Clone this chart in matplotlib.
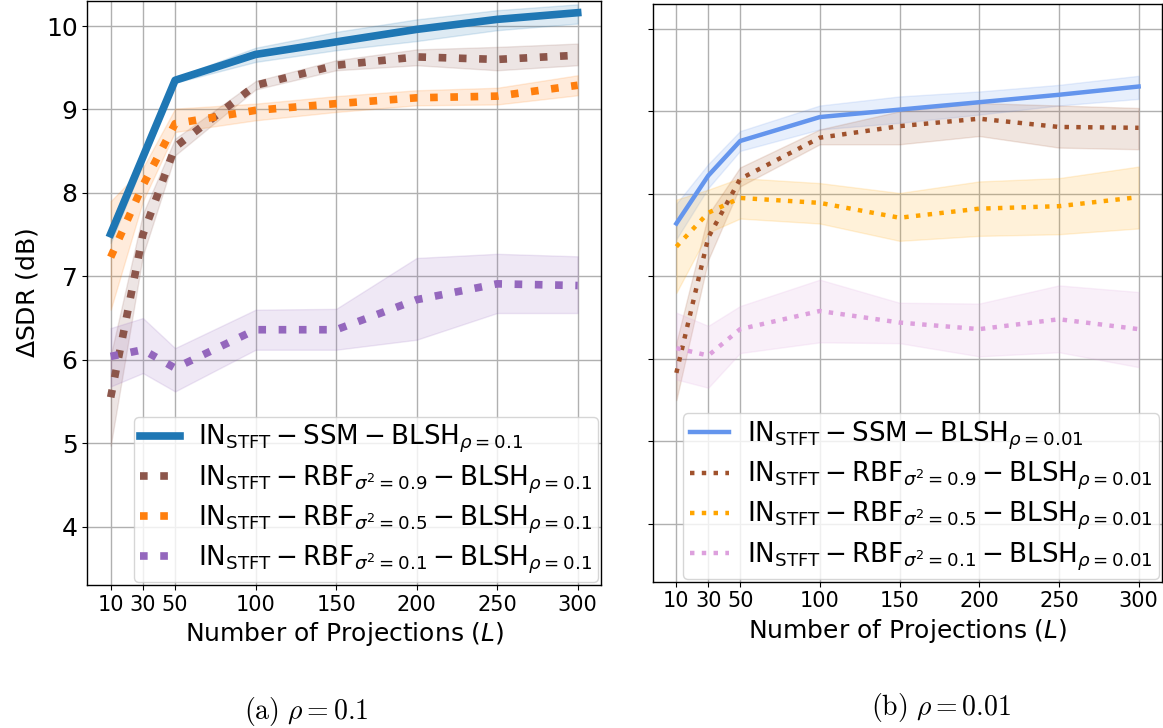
import matplotlib
matplotlib.use("Agg")
import matplotlib.pyplot as plt

# Number of projections L
L = [10, 30, 50, 100, 150, 200, 250, 300]
xtick_labels = ["10", "30", "50", "100", "150", "200", "250", "300"]

# ---- rho = 0.1 ----
ssm_a = [7.51, 8.43, 9.35, 9.66, 9.81, 9.96, 10.08, 10.16]
ssm_a_lo = [7.40, 8.35, 9.32, 9.57, 9.71, 9.82, 9.95, 10.03]
ssm_a_hi = [7.62, 8.52, 9.38, 9.74, 9.93, 10.08, 10.19, 10.26]

rbf09_a = [5.55, 7.50, 8.55, 9.29, 9.53, 9.63, 9.60, 9.65]
rbf09_a_lo = [4.97, 7.25, 8.45, 9.24, 9.47, 9.53, 9.47, 9.53]
rbf09_a_hi = [6.05, 7.75, 8.65, 9.34, 9.59, 9.72, 9.75, 9.79]

rbf05_a = [7.23, 8.09, 8.83, 8.99, 9.07, 9.14, 9.16, 9.29]
rbf05_a_lo = [6.60, 7.90, 8.73, 8.87, 8.97, 9.05, 9.06, 9.17]
rbf05_a_hi = [7.90, 8.30, 9.01, 9.07, 9.16, 9.23, 9.26, 9.41]

rbf01_a = [6.04, 6.12, 5.90, 6.36, 6.36, 6.72, 6.91, 6.89]
rbf01_a_lo = [5.68, 5.84, 5.62, 6.12, 6.12, 6.24, 6.56, 6.56]
rbf01_a_hi = [6.38, 6.50, 6.14, 6.60, 6.61, 7.22, 7.27, 7.24]

# ---- rho = 0.01 ----
ssm_b = [7.64, 8.22, 8.64, 8.93, 9.02, 9.11, 9.20, 9.30]
ssm_b_lo = [7.45, 8.07, 8.52, 8.78, 8.86, 8.96, 9.07, 9.15]
ssm_b_hi = [7.88, 8.36, 8.76, 9.07, 9.18, 9.24, 9.32, 9.43]

rbf09_b = [5.83, 7.47, 8.18, 8.68, 8.82, 8.91, 8.81, 8.80]
rbf09_b_lo = [5.50, 7.20, 8.09, 8.60, 8.60, 8.70, 8.56, 8.54]
rbf09_b_hi = [6.20, 7.75, 8.32, 8.78, 9.00, 9.10, 9.07, 9.04]

rbf05_b = [7.36, 7.77, 7.95, 7.89, 7.71, 7.82, 7.85, 7.96]
rbf05_b_lo = [6.80, 7.53, 7.70, 7.64, 7.43, 7.49, 7.51, 7.58]
rbf05_b_hi = [7.93, 8.05, 8.19, 8.13, 8.01, 8.15, 8.19, 8.33]

rbf01_b = [6.13, 6.04, 6.36, 6.58, 6.44, 6.36, 6.48, 6.36]
rbf01_b_lo = [5.75, 5.65, 6.07, 6.20, 6.19, 6.03, 6.08, 5.90]
rbf01_b_hi = [6.56, 6.40, 6.64, 6.96, 6.68, 6.67, 6.89, 6.81]


def label(sub_kernel, rho):
    if sub_kernel is None:
        mid = r"\mathrm{SSM}"
    else:
        mid = r"\mathrm{RBF}_{\sigma^2=" + sub_kernel + "}"
    return (r"$\mathrm{IN}_{\mathrm{STFT}} - " + mid +
            r" - \mathrm{BLSH}_{\rho=" + rho + "}$")


panel_a = [
    (ssm_a, ssm_a_lo, ssm_a_hi, "#1f77b4", "-", label(None, "0.1")),
    (rbf09_a, rbf09_a_lo, rbf09_a_hi, "#8c564b", ":", label("0.9", "0.1")),
    (rbf05_a, rbf05_a_lo, rbf05_a_hi, "#ff7f0e", ":", label("0.5", "0.1")),
    (rbf01_a, rbf01_a_lo, rbf01_a_hi, "#9467bd", ":", label("0.1", "0.1")),
]
panel_b = [
    (ssm_b, ssm_b_lo, ssm_b_hi, "#6495ED", "-", label(None, "0.01")),
    (rbf09_b, rbf09_b_lo, rbf09_b_hi, "#A0522D", ":", label("0.9", "0.01")),
    (rbf05_b, rbf05_b_lo, rbf05_b_hi, "#FFA500", ":", label("0.5", "0.01")),
    (rbf01_b, rbf01_b_lo, rbf01_b_hi, "#DDA0DD", ":", label("0.1", "0.01")),
]

fig = plt.figure(figsize=(11.63, 7.28), dpi=100)
ax_a = fig.add_axes([0.0751, 0.1964, 0.4417, 0.8022])
ax_b = fig.add_axes([0.5617, 0.2010, 0.4372, 0.7935])


def draw(ax, series, lw):
    for y, lo, hi, color, ls, lab in series:
        ax.fill_between(L, lo, hi, color=color, alpha=0.15)
    for y, lo, hi, color, ls, lab in series:
        ax.plot(L, y, color=color, linestyle=ls, linewidth=lw, label=lab)
    ax.set_xticks(L)
    ax.set_xticklabels(xtick_labels)
    ax.set_yticks([4, 5, 6, 7, 8, 9, 10])
    ax.set_ylim(3.30, 10.30)
    ax.set_xlim(-4.5, 314.5)
    ax.grid(True, color="#b0b0b0", linewidth=1.0)
    ax.set_axisbelow(True)
    ax.tick_params(axis="x", labelsize=15)
    ax.tick_params(axis="y", labelsize=18)
    ax.set_xlabel(r"Number of Projections ($L$)", fontsize=18)
    for s in ax.spines.values():
        s.set_linewidth(1.0)
    ax.legend(loc="lower right", fontsize=18.8, handlelength=1.5,
              handletextpad=0.7, borderpad=0.25, borderaxespad=0.1,
              labelspacing=0.3)


draw(ax_a, panel_a, 5.5)
draw(ax_b, panel_b, 3.2)
ax_a.set_ylabel(r"$\Delta$SDR (dB)", fontsize=18)
ax_b.tick_params(axis="y", labelleft=False)

fig.text(306 / 1163, 1 - 712 / 728, r"$\mathrm{(a)}\ \rho = 0.1$",
         ha="center", va="center", fontsize=20, math_fontfamily="cm")
fig.text(941 / 1163, 1 - 707 / 728, r"$\mathrm{(b)}\ \rho = 0.01$",
         ha="center", va="center", fontsize=20, math_fontfamily="cm")

fig.savefig("out.png", dpi=100)
